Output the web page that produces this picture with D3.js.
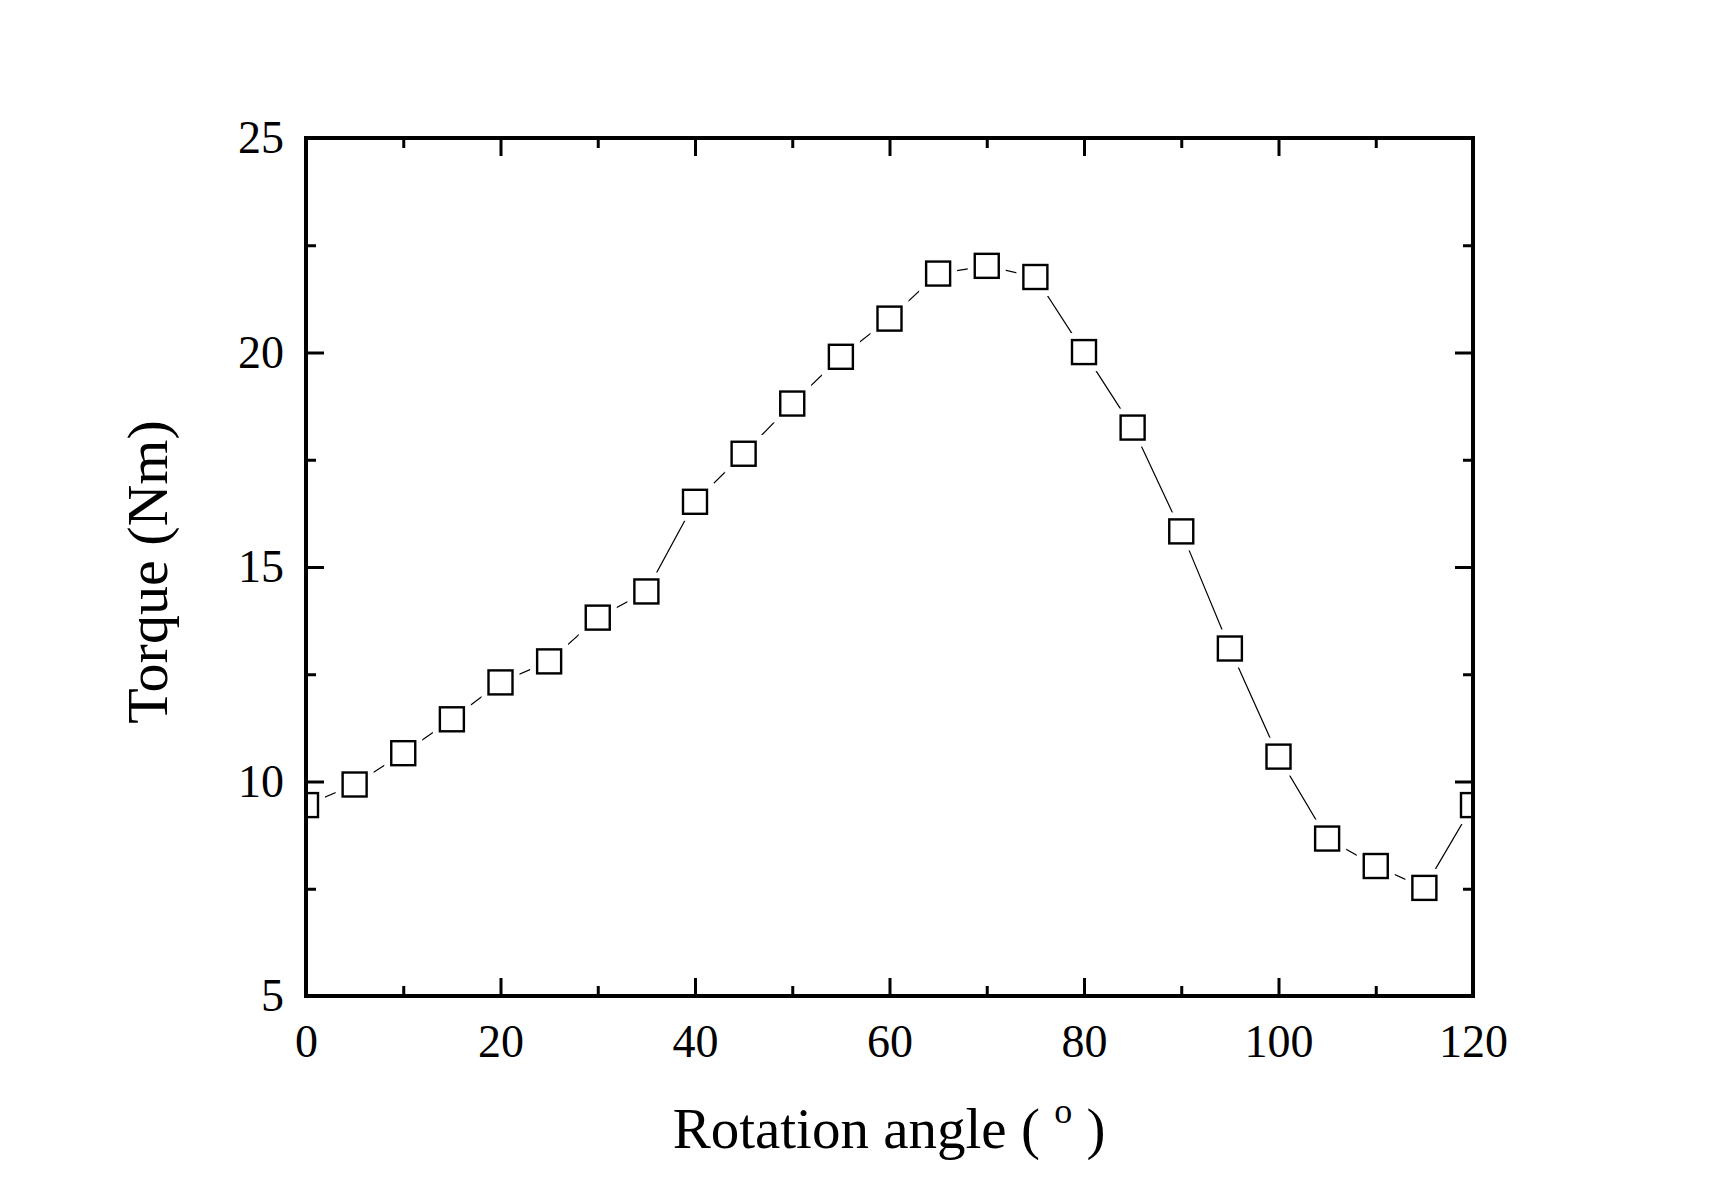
<!DOCTYPE html>
<html>
<head>
<meta charset="utf-8">
<script src="https://cdn.jsdelivr.net/npm/d3@7"></script>
<style>
  html, body { margin: 0; padding: 0; background: #fff; }
  svg { display: block; }
  text { font-family: "Liberation Serif", "Times New Roman", serif; fill: #000; }
</style>
</head>
<body>
<svg id="chart" width="1710" height="1194"></svg>
<script>
// ---- data ----
const angles = [0, 5, 10, 15, 20, 25, 30, 35, 40, 45, 50, 55, 60, 65, 70, 75, 80, 85, 90, 95, 100, 105, 110, 115, 120];
const torque = [9.45, 9.93, 10.66, 11.45, 12.31, 12.80, 13.82, 14.43, 16.52, 17.64, 18.81, 19.90, 20.79, 21.84, 22.02, 21.76, 20.01, 18.25, 15.83, 13.10, 10.58, 8.67, 8.03, 7.52, 9.45];
const xTicks = [0, 20, 40, 60, 80, 100, 120];
const xMinor = [10, 30, 50, 70, 90, 110];
const yTicks = [5, 10, 15, 20, 25];
const yMinor = [7.5, 12.5, 17.5, 22.5];
const xTitle = "Rotation angle";
const yTitle = "Torque (Nm)";

// ---- layout ----
const L = 306, R = 1473, T = 138, B = 996;
const svg = d3.select("#chart");
const x = d3.scaleLinear().domain([0, 120]).range([L, R]);
const y = d3.scaleLinear().domain([5, 25]).range([B, T]);

svg.append("defs").append("clipPath").attr("id", "clip")
  .append("rect").attr("x", L).attr("y", T).attr("width", R - L).attr("height", B - T);

const data = angles.map((a, i) => ({ a, t: torque[i] }));
const plot = svg.append("g").attr("clip-path", "url(#clip)");

plot.append("path")
  .datum(data)
  .attr("fill", "none")
  .attr("stroke", "#000")
  .attr("stroke-width", 1.2)
  .attr("d", d3.line().x(d => x(d.a)).y(d => y(d.t)));

const ms = 24;
// white halos to create gaps around markers
plot.selectAll("rect.halo").data(data).join("rect")
  .attr("class", "halo")
  .attr("x", d => x(d.a) - ms / 2 - 7)
  .attr("y", d => y(d.t) - ms / 2 - 7)
  .attr("width", ms + 14).attr("height", ms + 14)
  .attr("fill", "#fff");
plot.selectAll("rect.mk").data(data).join("rect")
  .attr("class", "mk")
  .attr("x", d => x(d.a) - ms / 2)
  .attr("y", d => y(d.t) - ms / 2)
  .attr("width", ms).attr("height", ms)
  .attr("fill", "#fff")
  .attr("stroke", "#000")
  .attr("stroke-width", 2.4);

// ---- axes (ticks inward on all four sides) ----
const major = 18, minor = 10;
function styleAxis(g) {
  g.select(".domain").remove();
  g.selectAll(".tick line").attr("stroke", "#000").attr("stroke-width", 3);
}
// bottom
svg.append("g").attr("transform", `translate(0,${B})`)
  .call(d3.axisBottom(x).tickValues(xTicks).tickSize(-major).tickPadding(28).tickFormat(d3.format("d")))
  .call(styleAxis)
  .call(g => g.selectAll("text").attr("font-size", 46).attr("font-family", "Liberation Serif"));
svg.append("g").attr("transform", `translate(0,${B})`)
  .call(d3.axisBottom(x).tickValues(xMinor).tickSize(-minor).tickFormat(""))
  .call(styleAxis);
// top
svg.append("g").attr("transform", `translate(0,${T})`)
  .call(d3.axisTop(x).tickValues(xTicks).tickSize(-major).tickFormat(""))
  .call(styleAxis);
svg.append("g").attr("transform", `translate(0,${T})`)
  .call(d3.axisTop(x).tickValues(xMinor).tickSize(-minor).tickFormat(""))
  .call(styleAxis);
// left
svg.append("g").attr("transform", `translate(${L},0)`)
  .call(d3.axisLeft(y).tickValues(yTicks).tickSize(-major).tickPadding(22).tickFormat(d3.format("d")))
  .call(styleAxis)
  .call(g => g.selectAll("text").attr("font-size", 46).attr("font-family", "Liberation Serif"));
svg.append("g").attr("transform", `translate(${L},0)`)
  .call(d3.axisLeft(y).tickValues(yMinor).tickSize(-minor).tickFormat(""))
  .call(styleAxis);
// right
svg.append("g").attr("transform", `translate(${R},0)`)
  .call(d3.axisRight(y).tickValues(yTicks).tickSize(-major).tickFormat(""))
  .call(styleAxis);
svg.append("g").attr("transform", `translate(${R},0)`)
  .call(d3.axisRight(y).tickValues(yMinor).tickSize(-minor).tickFormat(""))
  .call(styleAxis);

// frame
svg.append("rect")
  .attr("x", L).attr("y", T).attr("width", R - L).attr("height", B - T)
  .attr("fill", "none").attr("stroke", "#000").attr("stroke-width", 4);

// ---- titles ----
const xt = svg.append("text")
  .attr("x", 889).attr("y", 1148)
  .attr("text-anchor", "middle")
  .attr("font-size", 57);
xt.append("tspan").text(xTitle + " (\u00a0");
xt.append("tspan").attr("font-size", 36).attr("dy", -25).text("o");
xt.append("tspan").attr("dy", 25).text("\u00a0)");

svg.append("text")
  .attr("transform", `translate(167,572) rotate(-90)`)
  .attr("text-anchor", "middle")
  .attr("font-size", 58)
  .text(yTitle);
</script>
</body>
</html>
